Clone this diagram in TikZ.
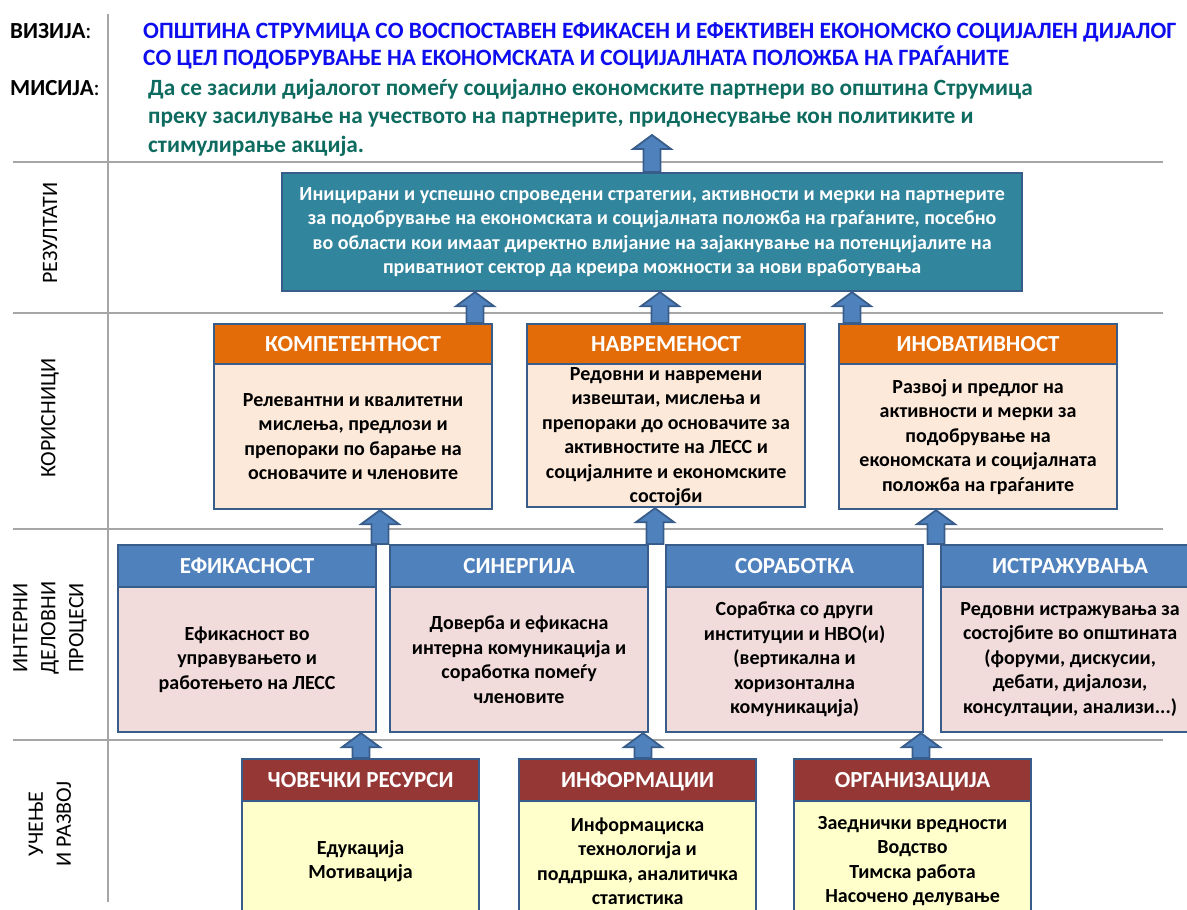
\documentclass[tikz,border=0pt]{standalone}
\usepackage{fontspec}
\setmainfont{Carlito}
\usetikzlibrary{calc}

\definecolor{gridgray}{HTML}{A6A6A6}
\definecolor{edgeblue}{HTML}{385D8A}
\definecolor{resteal}{HTML}{31859C}
\definecolor{hdrorange}{HTML}{E36C09}
\definecolor{bodypeach}{HTML}{FDE9D9}
\definecolor{hdrblue}{HTML}{4F81BD}
\definecolor{bodyrose}{HTML}{F2DCDB}
\definecolor{hdrred}{HTML}{953735}
\definecolor{bodyyellow}{HTML}{FFFFCC}
\definecolor{visionblue}{HTML}{0D0DEF}
\definecolor{missiongreen}{HTML}{0E6B5F}

% upward block arrow at abscissa #1, tip on #2.south, base on #3.north
\newcommand\blockup[3]{%
  \draw[blockarr] let \p1=(#2.south), \p2=(#3.north) in
    (#1pt-8.5pt,\y2) -- (#1pt-8.5pt,\y1-14pt) -- (#1pt-19pt,\y1-14pt) --
    (#1pt,\y1) -- (#1pt+19pt,\y1-14pt) -- (#1pt+8.5pt,\y1-14pt) --
    (#1pt+8.5pt,\y2) -- cycle;}

\begin{document}
\begin{tikzpicture}[x=1pt,y=-1pt,
  gridline/.style={draw=gridgray,line width=2.7pt},
  hdrbox/.style={draw=edgeblue,line width=2.2pt,anchor=north west,inner sep=0pt,
    text height=15pt,text depth=0pt,
    text=white,font=\bfseries\fontsize{23}{27}\selectfont},
  bodybox/.style={draw=edgeblue,line width=2.2pt,anchor=north west,inner sep=0pt},
  bodytext/.style={align=center,inner sep=0pt,font=\bfseries\fontsize{20}{24.5}\selectfont},
  blockarr/.style={draw=edgeblue,fill=hdrblue,line width=1.8pt,line join=miter},
  sidelabel/.style={rotate=90,align=center,font=\fontsize{22}{28}\selectfont},
  toplabel/.style={anchor=base west,inner sep=0pt,font=\fontsize{23}{27}\selectfont},
  visionline/.style={anchor=base west,inner sep=0pt,text=visionblue,font=\bfseries\fontsize{23.4}{27}\selectfont},
  missionline/.style={anchor=base west,inner sep=0pt,text=missiongreen,font=\bfseries\fontsize{23.3}{28}\selectfont},
]
\useasboundingbox (0,0) rectangle (1187,910);
\clip (0,0) rectangle (1187,910);

% ---- grid ----
\draw[gridline] (108,14) -- (108,902);
\foreach \yy in {162,313,529,740} \draw[gridline] (13,\yy) -- (1163,\yy);

% ---- vision and mission ----
\node[toplabel] (vislab) at (10,38) {\bfseries ВИЗИЈА\mdseries:};
\node[toplabel] (mislab) at (10,95) {\bfseries МИСИЈА\mdseries:};
\node[visionline] (vis1) at (143,38)
  {ОПШТИНА СТРУМИЦА СО ВОСПОСТАВЕН ЕФИКАСЕН И ЕФЕКТИВЕН ЕКОНОМСКО СОЦИЈАЛЕН ДИЈАЛОГ};
\node[visionline] (vis2) at (143,65)
  {СО ЦЕЛ ПОДОБРУВАЊЕ НА ЕКОНОМСКАТА И СОЦИЈАЛНАТА ПОЛОЖБА НА ГРАЃАНИТЕ};
\node[missionline] (mis1) at (148,95)
  {Да се засили дијалогот помеѓу социјално економските партнери во општина Струмица};
\node[missionline] (mis2) at (148,123)
  {преку засилување на учеството на партнерите, придонесување кон политиките и};
\node[missionline] (mis3) at (148,152)
  {стимулирање акција.};
\coordinate (mistip) at (652,135);

% ---- row labels ----
\node[sidelabel] (lres) at (50,233) {РЕЗУЛТАТИ};
\node[sidelabel] (lkor) at (50,418) {КОРИСНИЦИ};
\node[sidelabel] (lint) at (50,628) {ИНТЕРНИ\\ДЕЛОВНИ\\ПРОЦЕСИ};
\node[sidelabel] (luc) at (50,824) {УЧЕЊЕ\\И РАЗВОЈ};

% ---- results ----
\node[draw=edgeblue,fill=resteal,line width=2.2pt,anchor=north west,inner sep=0pt,
  minimum width=740pt,minimum height=118pt,text=white,align=center,
  font=\bfseries\fontsize{20}{24.5}\selectfont] (res) at (281,172)
  {Иницирани и успешно спроведени стратегии, активности и мерки на партнерите\\
   за подобрување на економската и социјалната положба на граѓаните, посебно\\
   во области кои имаат директно влијание на зајакнување на потенцијалите на\\
   приватниот сектор да креира можности за нови вработувања};

% ---- users ----
\node[hdrbox,fill=hdrorange,minimum width=278pt,minimum height=40pt] (k1h) at (213,323) {КОМПЕТЕНТНОСТ};
\node[bodybox,fill=bodypeach,minimum width=278pt,minimum height=145pt] (k1b) at (213,363) {};
\node[bodytext] (k1t) at (k1b.center) {Релевантни и квалитетни\\мислења, предлози и\\препораки по барање на\\основачите и членовите};

\node[hdrbox,fill=hdrorange,minimum width=278pt,minimum height=40pt] (k2h) at (526,323) {НАВРЕМЕНОСТ};
\node[bodybox,fill=bodypeach,minimum width=278pt,minimum height=143pt] (k2b) at (526,363) {};
\node[bodytext] (k2t) at ([yshift=-1pt]k2b.center) {Редовни и навремени\\извештаи, мислења и\\препораки до основачите за\\активностите на ЛЕСС и\\социјалните и економските\\состојби};

\node[hdrbox,fill=hdrorange,minimum width=278pt,minimum height=40pt] (k3h) at (838,323) {ИНОВАТИВНОСТ};
\node[bodybox,fill=bodypeach,minimum width=278pt,minimum height=145pt] (k3b) at (838,363) {};
\node[bodytext] (k3t) at (k3b.center) {Развој и предлог на\\активности и мерки за\\подобрување на\\економската и социјалната\\положба на граѓаните};

% ---- internal processes ----
\node[hdrbox,fill=hdrblue,minimum width=258pt,minimum height=42pt] (p1h) at (117,544) {ЕФИКАСНОСТ};
\node[bodybox,fill=bodyrose,minimum width=258pt,minimum height=145pt] (p1b) at (117,586) {};
\node[bodytext] (p1t) at (p1b.center) {Ефикасност во\\управувањето и\\работењето на ЛЕСС};

\node[hdrbox,fill=hdrblue,minimum width=258pt,minimum height=42pt] (p2h) at (389,544) {СИНЕРГИЈА};
\node[bodybox,fill=bodyrose,minimum width=258pt,minimum height=145pt] (p2b) at (389,586) {};
\node[bodytext] (p2t) at (p2b.center) {Доверба и ефикасна\\интерна комуникација и\\соработка помеѓу\\членовите};

\node[hdrbox,fill=hdrblue,minimum width=257pt,minimum height=42pt] (p3h) at (665,544) {СОРАБОТКА};
\node[bodybox,fill=bodyrose,minimum width=257pt,minimum height=145pt] (p3b) at (665,586) {};
\node[bodytext] (p3t) at (p3b.center) {Сорабтка со други\\институции и НВО(и)\\(вертикална и\\хоризонтална\\комуникација)};

\node[hdrbox,fill=hdrblue,minimum width=258pt,minimum height=42pt] (p4h) at (940,544) {ИСТРАЖУВАЊА};
\node[bodybox,fill=bodyrose,minimum width=258pt,minimum height=145pt] (p4b) at (940,586) {};
\node[bodytext] (p4t) at (p4b.center) {Редовни истражувања за\\состојбите во општината\\(форуми, дискусии,\\дебати, дијалози,\\консултации, анализи...)};

% ---- learning and growth ----
\node[hdrbox,fill=hdrred,minimum width=237pt,minimum height=42pt] (u1h) at (241,758) {ЧОВЕЧКИ РЕСУРСИ};
\node[bodybox,fill=bodyyellow,minimum width=237pt,minimum height=120pt] (u1b) at (241,800) {};
\node[bodytext] (u1t) at (u1b.center) {Едукација\\Мотивација};

\node[hdrbox,fill=hdrred,minimum width=237pt,minimum height=42pt] (u2h) at (518,758) {ИНФОРМАЦИИ};
\node[bodybox,fill=bodyyellow,minimum width=237pt,minimum height=120pt] (u2b) at (518,800) {};
\node[bodytext] (u2t) at (u2b.center) {Информациска\\технологија и\\поддршка, аналитичка\\статистика};

\node[hdrbox,fill=hdrred,minimum width=237pt,minimum height=42pt] (u3h) at (793,758) {ОРГАНИЗАЦИЈА};
\node[bodybox,fill=bodyyellow,minimum width=237pt,minimum height=120pt] (u3b) at (793,800) {};
\node[bodytext] (u3t) at (u3b.center) {Заеднички вредности\\Водство\\Тимска работа\\Насочено делување};

% ---- block arrows ----
\blockup{652}{mistip}{res}
\blockup{475}{res}{k1h}
\blockup{660}{res}{k2h}
\blockup{852}{res}{k3h}
\blockup{380}{k1b}{p2h}
\blockup{655}{k2b}{p3h}
\blockup{936}{k3b}{p4h}
\blockup{361}{p1b}{u1h}
\blockup{643}{p2b}{u2h}
\blockup{921}{p3b}{u3h}
\end{tikzpicture}
\end{document}
